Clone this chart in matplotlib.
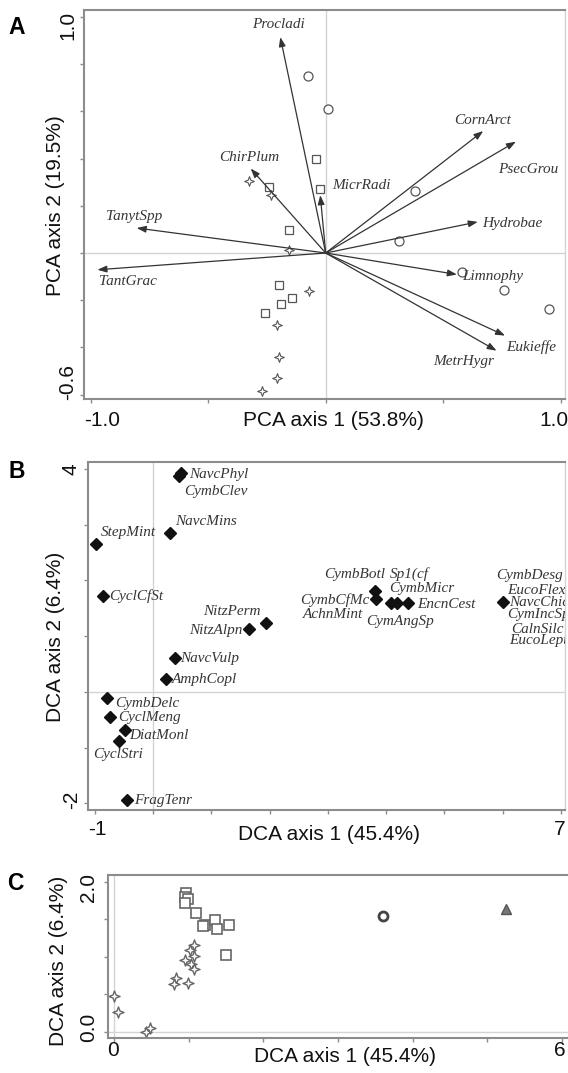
import matplotlib
matplotlib.use("Agg")
import matplotlib.pyplot as plt
from matplotlib.path import Path

W, H = 568, 1073  # output size in pixels

# ---------------- Panel A: PCA biplot ----------------
pca_species = ["Procladi", "ChirPlum", "MicrRadi", "TanytSpp", "TantGrac", "CornArct",
               "PsecGrou", "Hydrobae", "Limnophy", "Eukieffe", "MetrHygr"]
pca_arrow_x = [-0.193, -0.319, -0.023, -0.804, -0.971, 0.670, 0.809, 0.647, 0.558, 0.763, 0.727]
pca_arrow_y = [0.915, 0.358, 0.245, 0.106, -0.071, 0.517, 0.472, 0.132, -0.091, -0.350, -0.414]
pca_label_x = [-0.200, -0.324, 0.154, -0.814, -0.840, 0.667, 0.860, 0.794, 0.709, 0.875, 0.586]
pca_label_y = [0.967, 0.405, 0.288, 0.153, -0.120, 0.561, 0.354, 0.127, -0.099, -0.397, -0.460]

pca_circle_x = [-0.077, 0.008, 0.382, 0.310, 0.578, 0.758, 0.951]
pca_circle_y = [0.751, 0.610, 0.263, 0.051, -0.081, -0.156, -0.237]
pca_square_x = [-0.042, -0.023, -0.239, -0.154, -0.200, -0.143, -0.188, -0.257]
pca_square_y = [0.398, 0.273, 0.278, 0.099, -0.137, -0.191, -0.218, -0.255]
pca_star_x = [-0.327, -0.231, -0.154, -0.069, -0.208, -0.197, -0.205, -0.270]
pca_star_y = [0.305, 0.245, 0.011, -0.159, -0.307, -0.442, -0.530, -0.584]

# ---------------- Panel B: DCA diatom taxa ----------------
dca_taxa_x = [0.449, 0.481, 0.294, -0.981, -0.869, 1.930, 1.650, 0.369, 0.219, -0.795,
              -0.733, -0.484, -0.589, -0.453, 3.809, 3.827, 4.089, 4.194, 4.369, 6.005]
dca_taxa_y = [3.88, 3.92, 2.857, 2.648, 1.725, 1.241, 1.122, 0.601, 0.230, -0.106,
              -0.458, -0.686, -0.883, -1.943, 1.815, 1.666, 1.600, 1.600, 1.600, 1.607]

dca_names = ["NavcPhyl", "CymbClev", "NavcMins", "StepMint", "CyclCfSt", "NitzPerm",
             "NitzAlpn", "NavcVulp", "AmphCopl", "CymbDelc", "CyclMeng", "DiatMonl",
             "CyclStri", "FragTenr", "CymbBotl", "Sp1(cf", "CymbMicr", "CymbCfMc",
             "EncnCest", "AchnMint", "CymAngSp", "CymbDesg", "EucoFlex", "NavcChic",
             "CymIncSp", "CalnSilc", "EucoLept"]
dca_name_x = [0.617, 0.524, 0.375, -0.900, -0.764, 1.837, 1.526, 0.462, 0.325, -0.652,
              -0.608, -0.409, -1.025, -0.328, 3.467, 4.400, 4.617, 3.124, 5.034, 3.093,
              4.244, 6.465, 6.079, 6.110, 6.079, 6.142, 6.110]
dca_name_y = [3.91, 3.605, 3.066, 2.863, 1.725, 1.451, 1.110, 0.601, 0.230, -0.207,
              -0.465, -0.776, -1.117, -1.955, 2.115, 2.115, 1.858, 1.648, 1.571, 1.380,
              1.260, 2.085, 1.828, 1.607, 1.380, 1.124, 0.920]
dca_name_ha = ["left", "left", "left", "left", "left", "right", "right", "left", "left", "left",
               "left", "left", "left", "left", "center", "center", "center", "center",
               "center", "center", "center", "center", "left", "left", "left", "left", "left"]

# ---------------- Panel C: DCA sites ----------------
site_square_x = [0.969, 0.945, 0.984, 0.955, 1.091, 1.212, 1.188, 1.357, 1.372, 1.537, 1.493]
site_square_y = [1.845, 1.800, 1.765, 1.720, 1.578, 1.422, 1.409, 1.489, 1.365, 1.422, 1.022]
site_circle_x = [3.602]
site_circle_y = [1.542]
site_triangle_x = [5.250]
site_triangle_y = [1.631]
site_star_x = [1.076, 1.018, 1.076, 0.955, 1.028, 1.076, 0.834, 0.800, 0.994, 0.000, 0.048, 0.427, 0.485]
site_star_y = [1.156, 1.089, 1.009, 0.956, 0.903, 0.832, 0.711, 0.636, 0.645, 0.476, 0.267, 0.000, 0.044]

SPINE = "#8c8c8c"
GRID = "#d4d4d4"
MARK = "#555555"
LABEL = "#363636"

# concave four pointed star used by CanoDraw
r = 0.38
star = Path([(0, 1), (r * 0.707, r * 0.707), (1, 0), (r * 0.707, -r * 0.707),
             (0, -1), (-r * 0.707, -r * 0.707), (-1, 0), (-r * 0.707, r * 0.707), (0, 1)],
            [Path.MOVETO] + [Path.LINETO] * 7 + [Path.CLOSEPOLY])

fig = plt.figure(figsize=(W / 100, H / 100), dpi=100)
fig.patch.set_facecolor("white")


def px_axes(left, top, right, bottom):
    return fig.add_axes([left / W, 1 - bottom / H, (right - left) / W, (bottom - top) / H])


def fig_text(x, y, s, **kw):
    fig.text(x / W, 1 - y / H, s, ha="center", va="center", **kw)


def style(ax, xticks, yticks, right_color=GRID):
    for side in ["left", "bottom", "top"]:
        ax.spines[side].set_color(SPINE)
        ax.spines[side].set_linewidth(1.5)
    ax.spines["right"].set_color(right_color)
    ax.spines["right"].set_linewidth(1.0)
    ax.set_xticks(xticks)
    ax.set_yticks(yticks)
    ax.tick_params(direction="out", length=3, width=1, color=SPINE,
                   labelbottom=False, labelleft=False)
    ax.axhline(0, color=GRID, lw=1, zorder=0)
    ax.axvline(0, color=GRID, lw=1, zorder=0)


sans = dict(family="Liberation Sans", fontsize=15, color="#111111")
tick = dict(family="Liberation Sans", fontsize=15, color="#111111")
ital = dict(family="Liberation Serif", style="italic", fontsize=11, color=LABEL)

# ---- A ----
axA = px_axes(84, 10, 565, 399.3)
axA.set_xlim(-1.028, 1.018)
axA.set_ylim(-0.62, 1.03)
style(axA, [-1, -0.5, 0, 0.5, 1], [-0.6, -0.4, -0.2, 0, 0.2, 0.4, 0.6, 0.8, 1.0])
for name, ex, ey, lx, ly in zip(pca_species, pca_arrow_x, pca_arrow_y, pca_label_x, pca_label_y):
    axA.annotate("", xy=(ex, ey), xytext=(0, 0),
                 arrowprops=dict(arrowstyle="-|>,head_length=0.55,head_width=0.2",
                                 mutation_scale=10, color="#333333", lw=0.9,
                                 shrinkA=0, shrinkB=0))
    axA.text(lx, ly, name, ha="center", va="center", **ital)
axA.plot(pca_circle_x, pca_circle_y, "o", ms=6.5, mfc="white", mec=MARK, mew=0.9, ls="none")
axA.plot(pca_square_x, pca_square_y, "s", ms=6.3, mfc="white", mec=MARK, mew=0.9, ls="none")
axA.plot(pca_star_x, pca_star_y, marker=star, ms=7, mfc="white", mec=MARK, mew=0.8, ls="none")

fig_text(17, 27, "A", family="Liberation Sans", fontsize=16.5, fontweight="bold")
fig_text(68, 25.8, "1.0", rotation=90, **tick)
fig_text(68, 382.5, "-0.6", rotation=90, **tick)
fig_text(101.8, 420, "-1.0", **tick)
fig_text(554, 420, "1.0", **tick)
fig_text(333.8, 420, "PCA axis 1 (53.8%)", **sans)
fig_text(56, 206, "PCA axis 2 (19.5%)", rotation=90, **sans)

# ---- B ----
axB = px_axes(87.7, 462, 565, 810)
axB.set_xlim(-1.124, 7.07)
axB.set_ylim(-2.12, 4.126)
style(axB, list(range(-1, 8)), list(range(-2, 5)))
axB.plot(dca_taxa_x, dca_taxa_y, "D", ms=6, color="#111111", ls="none")
for name, lx, ly, ha in zip(dca_names, dca_name_x, dca_name_y, dca_name_ha):
    axB.text(lx, ly, name, ha=ha, va="center", clip_on=True, **ital)

fig_text(17, 471, "B", family="Liberation Sans", fontsize=16.5, fontweight="bold")
fig_text(70.6, 469, "4", rotation=90, **tick)
fig_text(71.5, 800, "-2", rotation=90, **tick)
fig_text(97, 829.3, "-1", **tick)
fig_text(560, 829.3, "7", **tick)
fig_text(329.3, 835, "DCA axis 1 (45.4%)", **sans)
fig_text(56, 637, "DCA axis 2 (6.4%)", rotation=90, **sans)

# ---- C ----
axC = px_axes(107.9, 875, 600, 1038.3)
axC.set_xlim(-0.083, 6.51)
axC.set_ylim(-0.088, 2.09)
style(axC, list(range(0, 7)), [0, 0.5, 1.0, 1.5, 2.0], right_color=SPINE)
axC.plot(site_square_x, site_square_y, "s", ms=7.5, mfc="white", mec="#666666", mew=1.2, ls="none")
axC.plot(site_star_x, site_star_y, marker=star, ms=8, mfc="white", mec="#666666", mew=1.0, ls="none")
axC.plot(site_circle_x, site_circle_y, "o", ms=6.5, mfc="white", mec="#444444", mew=2.0, ls="none")
axC.plot(site_triangle_x, site_triangle_y, "^", ms=7, mfc="#777777", mec="#555555", mew=1.0, ls="none")

fig_text(15.4, 883, "C", family="Liberation Sans", fontsize=16.5, fontweight="bold")
fig_text(88.7, 888, "2.0", rotation=90, **tick)
fig_text(88.7, 1027, "0.0", rotation=90, **tick)
fig_text(113.3, 1050, "0", **tick)
fig_text(560, 1050, "6", **tick)
fig_text(345, 1056.7, "DCA axis 1 (45.4%)", **sans)
fig_text(58, 961, "DCA axis 2 (6.4%)", rotation=90, **sans)

fig.savefig("out.png", dpi=100, facecolor="white")
